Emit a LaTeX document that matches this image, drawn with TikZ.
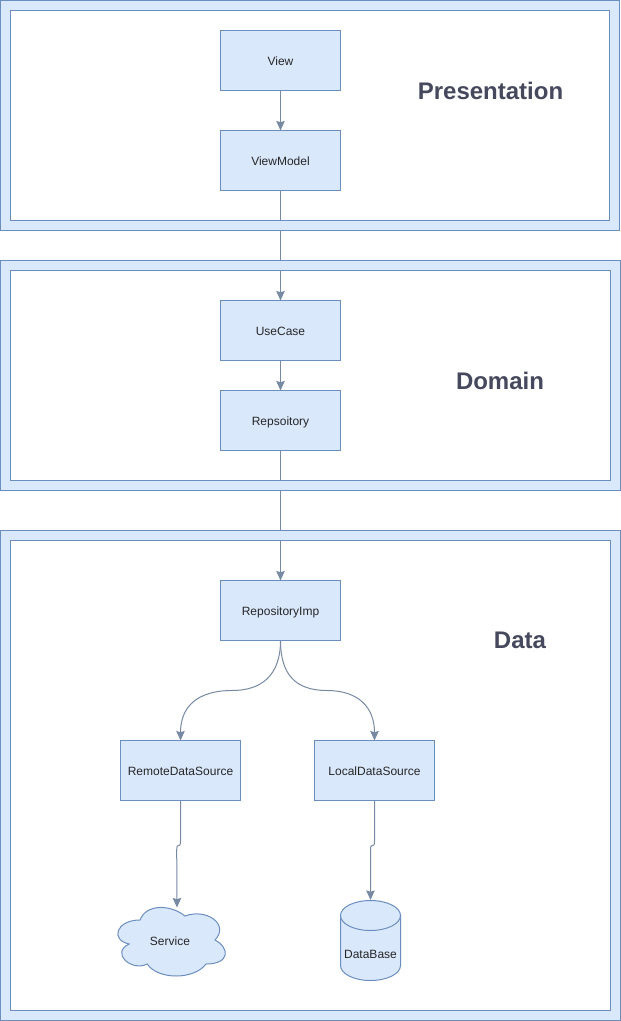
\documentclass[tikz,border=0pt]{standalone}
\usepackage{fontspec}
\setmainfont{Liberation Sans}
\usetikzlibrary{arrows.meta}
\definecolor{boxfill}{HTML}{DAE8FC}
\definecolor{boxline}{HTML}{6C8EBF}
\definecolor{connline}{HTML}{788AA3}
\definecolor{titlecol}{HTML}{46495D}
\pgfdeclarelayer{bglayer}
\pgfdeclarelayer{connlayer}
\pgfdeclarelayer{framelayer}
\pgfsetlayers{bglayer,connlayer,framelayer,main}
\tikzset{
  shapeline/.style={draw=boxline,fill=boxfill,line width=0.75pt},
  boxnode/.style={shapeline,rectangle,inner sep=0pt,outer sep=0pt,minimum width=90pt,minimum height=45pt,font=\fontsize{9}{11}\selectfont,text=black!85,text height=8pt,text depth=0.5pt},
  plaintext/.style={inner sep=0pt,outer sep=0pt,font=\fontsize{9}{11}\selectfont,text=black!85,text height=8pt,text depth=0.5pt},
  titletext/.style={inner sep=0pt,outer sep=0pt,font=\fontsize{18}{22}\selectfont\bfseries,text=titlecol},
  conn/.style={draw=connline,line width=0.75pt},
  arrowconn/.style={conn,-{Stealth[length=7.2pt,width=6.4pt,inset=1pt]}},
}
\newcommand{\bandframe}[4]{%
  \begin{pgfonlayer}{framelayer}
    \path[shapeline,even odd rule] (#1,#2) rectangle (#3,#4)
      ({#1+10},{#2+10}) rectangle ({#3-10},{#4-10});
  \end{pgfonlayer}}
\begin{document}
\begin{tikzpicture}[x=0.75pt,y=-0.75pt]
\useasboundingbox (0,0) rectangle (621,1021);
\begin{pgfonlayer}{bglayer}
  \fill[white] (0,0) rectangle (621,1021);
\end{pgfonlayer}
\bandframe{0.5}{0.5}{619.7}{230.5}
\bandframe{0.5}{260.5}{620.5}{490.5}
\bandframe{0.5}{530.5}{620.5}{1020.5}

\node[boxnode] (view) at (280.5,60.5) {View};
\node[boxnode] (viewmodel) at (280.5,160.5) {ViewModel};
\node[boxnode] (usecase) at (280.5,330.5) {UseCase};
\node[boxnode] (repo) at (280.5,420.5) {Repsoitory};
\node[boxnode] (repoimp) at (280.5,610.5) {RepositoryImp};
\node[boxnode] (remote) at (180.5,770.5) {RemoteDataSource};
\node[boxnode] (local) at (374.5,770.5) {LocalDataSource};

\node[titletext] (tpres) at (490.5,90.5) {Presentation};
\node[titletext] (tdom) at (500,380.5) {Domain};
\node[titletext] (tdata) at (520,640.5) {Data};

% cloud
\path[shapeline]
  (140,920) .. controls (116,920) and (110,940) .. (129.2,944)
  .. controls (110,952.8) and (131.6,972) .. (147.2,964)
  .. controls (158,980) and (194,980) .. (206,964)
  .. controls (230,964) and (230,948) .. (215,940)
  .. controls (230,924) and (206,908) .. (185,916)
  .. controls (170,904) and (146,904) .. (140,920) -- cycle;
\node[plaintext] (service) at (170,940.5) {Service};
\coordinate (servicetop) at (177,907.5);

% database
\path[shapeline] (340.5,915.5) -- (340.5,965.5) arc[start angle=180,end angle=0,x radius=30,y radius=15]
  -- (400.5,915.5) -- cycle;
\path[shapeline] (370.5,915.5) ellipse[x radius=30,y radius=15];
\node[plaintext] (database) at (370.5,953.5) {DataBase};
\coordinate (dbtop) at (370.5,900);

\begin{pgfonlayer}{connlayer}
  \draw[arrowconn] (view.south) -- (viewmodel.north);
  \draw[arrowconn] (viewmodel.south) -- (usecase.north);
  \draw[arrowconn] (usecase.south) -- (repo.north);
  \draw[arrowconn] (repo.south) -- (repoimp.north);
  \draw[arrowconn] (repoimp.south) .. controls (280.5,675) and (262,690.5) .. (232,690.5)
    .. controls (197,690.5) and (180.5,707) .. (remote.north);
  \draw[arrowconn] (repoimp.south) .. controls (280.5,675) and (296,690.5) .. (327,690.5)
    .. controls (358,690.5) and (374.5,707) .. (local.north);
  \draw[arrowconn] (remote.south) -- (180.5,841) .. controls (180.5,850) and (176.7,841) .. (176.7,850) -- (servicetop);
  \draw[arrowconn] (local.south) -- (374.5,841) .. controls (374.5,850) and (370.5,841) .. (370.5,850) -- (dbtop);
\end{pgfonlayer}
\end{tikzpicture}
\end{document}
